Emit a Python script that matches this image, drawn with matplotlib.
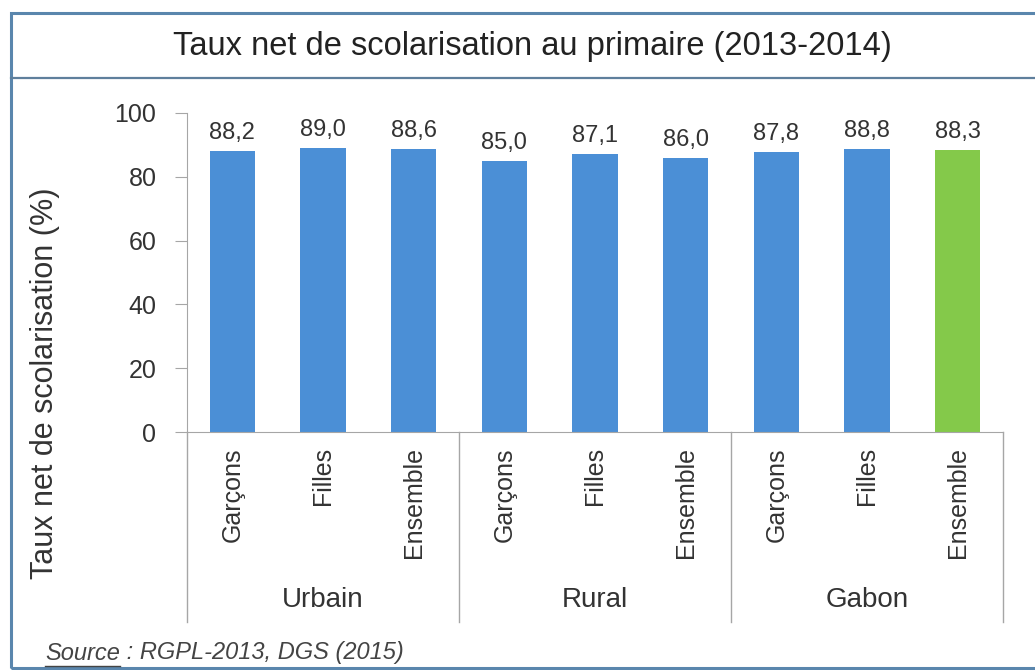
import matplotlib
matplotlib.use("Agg")
import matplotlib.pyplot as plt
from matplotlib.patches import Rectangle
from matplotlib.lines import Line2D
import matplotlib.transforms as mtransforms

plt.rcParams['font.family'] = ['Liberation Sans', 'DejaVu Sans']

# data
groups = ['Urbain', 'Rural', 'Gabon']
categories = ['Garçons', 'Filles', 'Ensemble'] * 3
values = [88.2, 89.0, 88.6, 85.0, 87.1, 86.0, 87.8, 88.8, 88.3]
value_labels = ['88,2', '89,0', '88,6', '85,0', '87,1', '86,0', '87,8', '88,8', '88,3']
yticks = [0, 20, 40, 60, 80, 100]

W, H = 1035, 670
blue = '#4b8fd6'
green = '#84c94a'
grey = '#a6a6a6'
txt = '#333333'

fig = plt.figure(figsize=(W / 100, H / 100), dpi=100)

def fx(px):
    return px / W

def fy(py):
    return 1 - py / H

# frame and title box
fig.patches.append(Rectangle((fx(11), fy(668)), fx(1040) - fx(11), fy(13) - fy(668),
                             transform=fig.transFigure, fill=False,
                             edgecolor='#5a86ad', linewidth=2.2))
fig.lines.append(Line2D([fx(11), fx(1035)], [fy(78), fy(78)],
                        transform=fig.transFigure, color='#5f7f9c', linewidth=1.6))
fig.text(fx(532), fy(47), 'Taux net de scolarisation au primaire (2013-2014)',
         ha='center', va='center', fontsize=23.5, color='#222222')

ax = fig.add_axes([fx(187), fy(432), fx(1003) - fx(187), fy(113) - fy(432)])
x = list(range(len(values)))
colors = [blue] * (len(values) - 1) + [green]
ax.bar(x, values, width=0.5, color=colors)
for xi, v, lab in zip(x, values, value_labels):
    ax.text(xi, v + 2.2, lab, ha='center', va='bottom', fontsize=17, color=txt)

ax.set_xlim(-0.5, len(values) - 0.5)
ax.set_ylim(0, 100)
ax.set_yticks(yticks)
ax.tick_params(axis='y', labelsize=18, colors=txt, length=9, color=grey, pad=13)
ax.set_xticks(x)
ax.set_xticklabels(categories, rotation=90, fontsize=18, color=txt, va='top')
ax.tick_params(axis='x', length=0, pad=11)
for s in ['top', 'right']:
    ax.spines[s].set_visible(False)
ax.spines['left'].set_color(grey)
ax.spines['bottom'].set_color(grey)
ax.set_ylabel('Taux net de scolarisation (%)', fontsize=22, color=txt)
ax.yaxis.set_label_coords(fx(60), fy(383), transform=fig.transFigure)

# group separators and group labels
trans = mtransforms.blended_transform_factory(ax.transData, fig.transFigure)
for b in [-0.5, 2.5, 5.5, 8.5]:
    ax.add_line(Line2D([b, b], [fy(432), fy(622)], transform=trans,
                       color=grey, linewidth=1, clip_on=False))
for i, g in enumerate(groups):
    ax.text(i * 3 + 1, fy(600), g, transform=trans, ha='center', va='center',
            fontsize=20, color=txt)

# source
src = fig.text(fx(45), fy(653), 'Source', ha='left', va='center',
               fontsize=17, style='italic', color='#444444')
fig.canvas.draw()
bb = src.get_window_extent()
fig.lines.append(Line2D([bb.x0 / W, bb.x1 / W], [(bb.y0 - 1) / H, (bb.y0 - 1) / H],
                        transform=fig.transFigure, color='#444444', linewidth=1))
fig.text(bb.x1 / W, fy(653), ' : RGPL-2013, DGS (2015)', ha='left', va='center',
         fontsize=17, style='italic', color='#444444')

fig.savefig('out.png', dpi=100)
